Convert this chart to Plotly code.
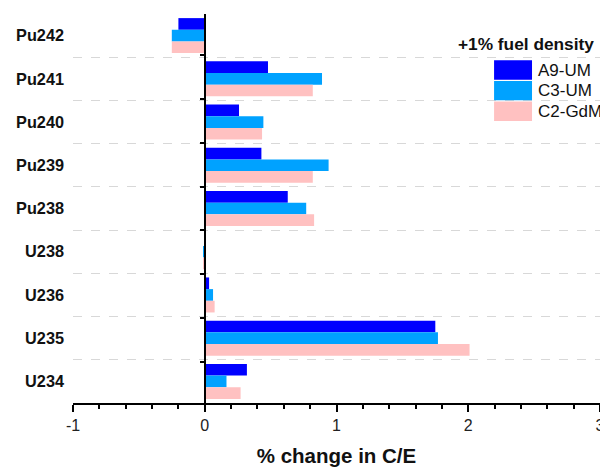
import plotly.graph_objects as go

isotopes = ["Pu242", "Pu241", "Pu240", "Pu239", "Pu238", "U238", "U236", "U235", "U234"]
series_names = ["A9-UM", "C3-UM", "C2-GdM"]
a9_um = [-0.20, 0.48, 0.26, 0.43, 0.63, 0.0, 0.033, 1.75, 0.32]
c3_um = [-0.25, 0.89, 0.445, 0.94, 0.77, -0.012, 0.063, 1.77, 0.165]
c2_gdm = [-0.25, 0.82, 0.435, 0.82, 0.83, -0.006, 0.075, 2.01, 0.272]
colors = ["#0000FF", "#00A2FF", "#FFC1C1"]
legend_title = "+1% fuel density"
x_ticks = [-1, 0, 1, 2, 3]
x_tick_text = ["-1", "0", "1", "2", "3"]

FONT = "Arial, Liberation Sans, sans-serif"
fig = go.Figure()
for name, vals, col in zip(series_names, [a9_um, c3_um, c2_gdm], colors):
    fig.add_trace(go.Bar(y=isotopes, x=vals, orientation="h", name=name,
                         marker=dict(color=col, line=dict(width=0)),
                         showlegend=False))

# invisible helper trace so the zero-position category axis is drawn
fig.add_trace(go.Scatter(y=isotopes, x=[0] * len(isotopes), mode="none",
                         yaxis="y2", showlegend=False, hoverinfo="skip"))

fig.update_layout(
    width=600, height=467,
    margin=dict(l=73, r=0, t=14, b=64),
    paper_bgcolor="white", plot_bgcolor="white",
    barmode="group", bargap=0.19, bargroupgap=0,
    font=dict(family=FONT, color="#111"),
    xaxis=dict(range=[-1, 3], tickvals=x_ticks, ticktext=x_tick_text, showgrid=False,
               automargin=False,
               zeroline=True, zerolinecolor="black", zerolinewidth=1.5,
               showline=True, linecolor="black", linewidth=1.5,
               ticks="outside", ticklen=7, tickwidth=1.5, tickcolor="black",
               minor=dict(dtick=0.2, ticks="outside", ticklen=4, tickwidth=1.5, tickcolor="black"),
               tickfont=dict(size=16, color="#222"), ticklabeloverflow="allow",
               title=dict(text="% change in C/E", font=dict(size=20.5, weight="bold", color="#111"),
                          standoff=16)),
    yaxis=dict(type="category", categoryarray=isotopes, autorange="reversed",
               automargin=False,
               tickson="boundaries", showgrid=True, gridcolor="#d8d8d8", griddash="dash",
               gridwidth=1, ticks="", showline=False, zeroline=False,
               tickfont=dict(size=16.3, weight="bold", color="#111"),
               ticklabelstandoff=8),
    yaxis2=dict(type="category", categoryarray=isotopes, autorange="reversed",
                overlaying="y", anchor="free", position=0.2505, automargin=False,
                showline=True, linecolor="black", linewidth=1.5,
                ticks="outside", ticklen=4, tickwidth=1.5, tickcolor="black",
                tickson="boundaries", showticklabels=False, showgrid=False, zeroline=False),
)

# custom legend with large swatches
fig.add_annotation(xref="paper", yref="paper", x=0.993, y=0.923, xanchor="right", yanchor="middle",
                   text=legend_title, showarrow=False,
                   font=dict(size=17.3, weight="bold", color="#111", family=FONT))
ys = [0.856, 0.803, 0.750]
for name, col, yc in zip(series_names, colors, ys):
    fig.add_shape(type="rect", xref="paper", yref="paper", x0=0.799, x1=0.871,
                  y0=yc - 0.025, y1=yc + 0.025, fillcolor=col, line=dict(width=0))
    fig.add_annotation(xref="paper", yref="paper", x=0.879, y=yc, xanchor="left", yanchor="middle",
                       text=name, showarrow=False,
                       font=dict(size=17, color="#111", family=FONT))

fig.write_html("out.html", config={"displayModeBar": False},
               post_script="document.body.style.margin='0';document.body.style.overflow='hidden';")
